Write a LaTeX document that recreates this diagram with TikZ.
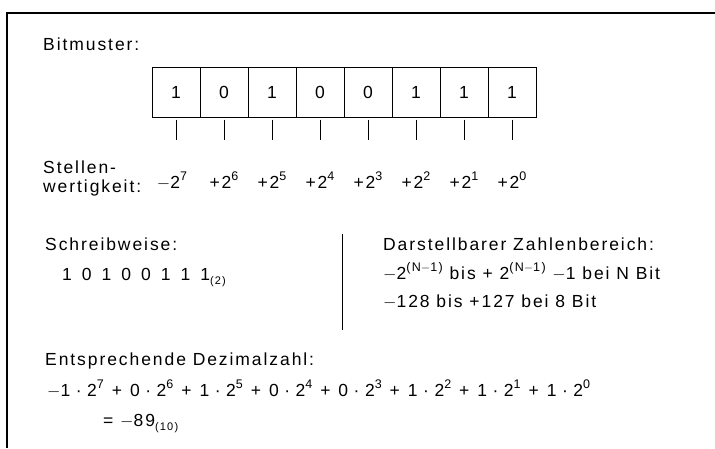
\documentclass[tikz,border=0pt]{standalone}
\usepackage{fontspec}
\setmainfont[LetterSpace=11]{Liberation Sans}
\newcommand{\hoch}[1]{\raisebox{0.42em}{\fontsize{12.5}{12.5}\selectfont #1}}
\newcommand{\tief}[1]{\raisebox{-0.28em}{\fontsize{11}{11}\selectfont #1}}
\newcommand{\mal}{\hspace{5.5pt}\textperiodcentered\hspace{5.5pt}}
\newcommand{\pl}{\hspace{8pt}+\hspace{8pt}}
\begin{document}
\begin{tikzpicture}[x=1pt,y=-1pt,
  txt/.style={anchor=base west,inner sep=0pt,font=\fontsize{17.5}{21}\selectfont},
  pw/.style={anchor=base,inner sep=0pt,font=\fontsize{17.5}{21}\selectfont},
  bitbox/.style={draw,line width=1pt,minimum width=48pt,minimum height=50pt,inner sep=0pt,font=\fontsize{17.5}{21}\selectfont},
  tick/.style={line width=1pt}]
\useasboundingbox (0,0) rectangle (715,448);
\draw[line width=1.6pt] (715,13) -- (7,13) -- (7,448);
\node[txt] (bm) at (43,50) {Bitmuster:};
\foreach \i/\v in {1/1,2/0,3/1,4/0,5/0,6/1,7/1,8/1}{
  \node[bitbox] (b\i) at ({152+48*(\i-0.5)},92) {\v};
  \coordinate (t\i) at ({152+48*(\i-0.5)},140);
  \draw[tick] ([yshift=-2pt]b\i.south) -- (t\i);
}
\node[txt] (st1) at (43,173) {Stellen-};
\node[txt] (st2) at (43,192) {wertigkeit:};
\node[pw] (p1) at ([xshift=-4pt]t1 |- 0,188) {$-$2\hoch{7}};
\node[pw] (p2) at (t2 |- 0,188) {+2\hoch{6}};
\node[pw] (p3) at (t3 |- 0,188) {+2\hoch{5}};
\node[pw] (p4) at (t4 |- 0,188) {+2\hoch{4}};
\node[pw] (p5) at (t5 |- 0,188) {+2\hoch{3}};
\node[pw] (p6) at (t6 |- 0,188) {+2\hoch{2}};
\node[pw] (p7) at (t7 |- 0,188) {+2\hoch{1}};
\node[pw] (p8) at (t8 |- 0,188) {+2\hoch{0}};
\node[txt] (sw) at (45,250) {Schreibweise:};
\node[txt] (swv) at (62,280) {1\hspace{10pt}0\hspace{10pt}1\hspace{10pt}0\hspace{10pt}0\hspace{10pt}1\hspace{10pt}1\hspace{10pt}1\tief{(2)}};
\coordinate (d1) at (342,234);
\coordinate (d2) at (342,330);
\draw[line width=1pt] (d1) -- (d2);
\node[txt] (dz) at (383,250) {Darstellbarer Zahlenbereich:};
\node[txt] (dz1) at (383,279) {$-$2\hoch{(N$-$1)} bis + 2\hoch{(N$-$1)} $-$1 bei N Bit};
\node[txt] (dz2) at (383,307) {$-$128 bis +127 bei 8 Bit};
\node[txt] (ed) at (45,365) {Entsprechende Dezimalzahl:};
\node[txt] (eq) at (47,396) {$-$1\mal 2\hoch{7}\pl 0\mal 2\hoch{6}\pl 1\mal 2\hoch{5}\pl 0\mal 2\hoch{4}\pl 0\mal 2\hoch{3}\pl 1\mal 2\hoch{2}\pl 1\mal 2\hoch{1}\pl 1\mal 2\hoch{0}};
\node[txt] (res) at (103,426) {= $-$89\tief{(10)}};
\end{tikzpicture}
\end{document}
